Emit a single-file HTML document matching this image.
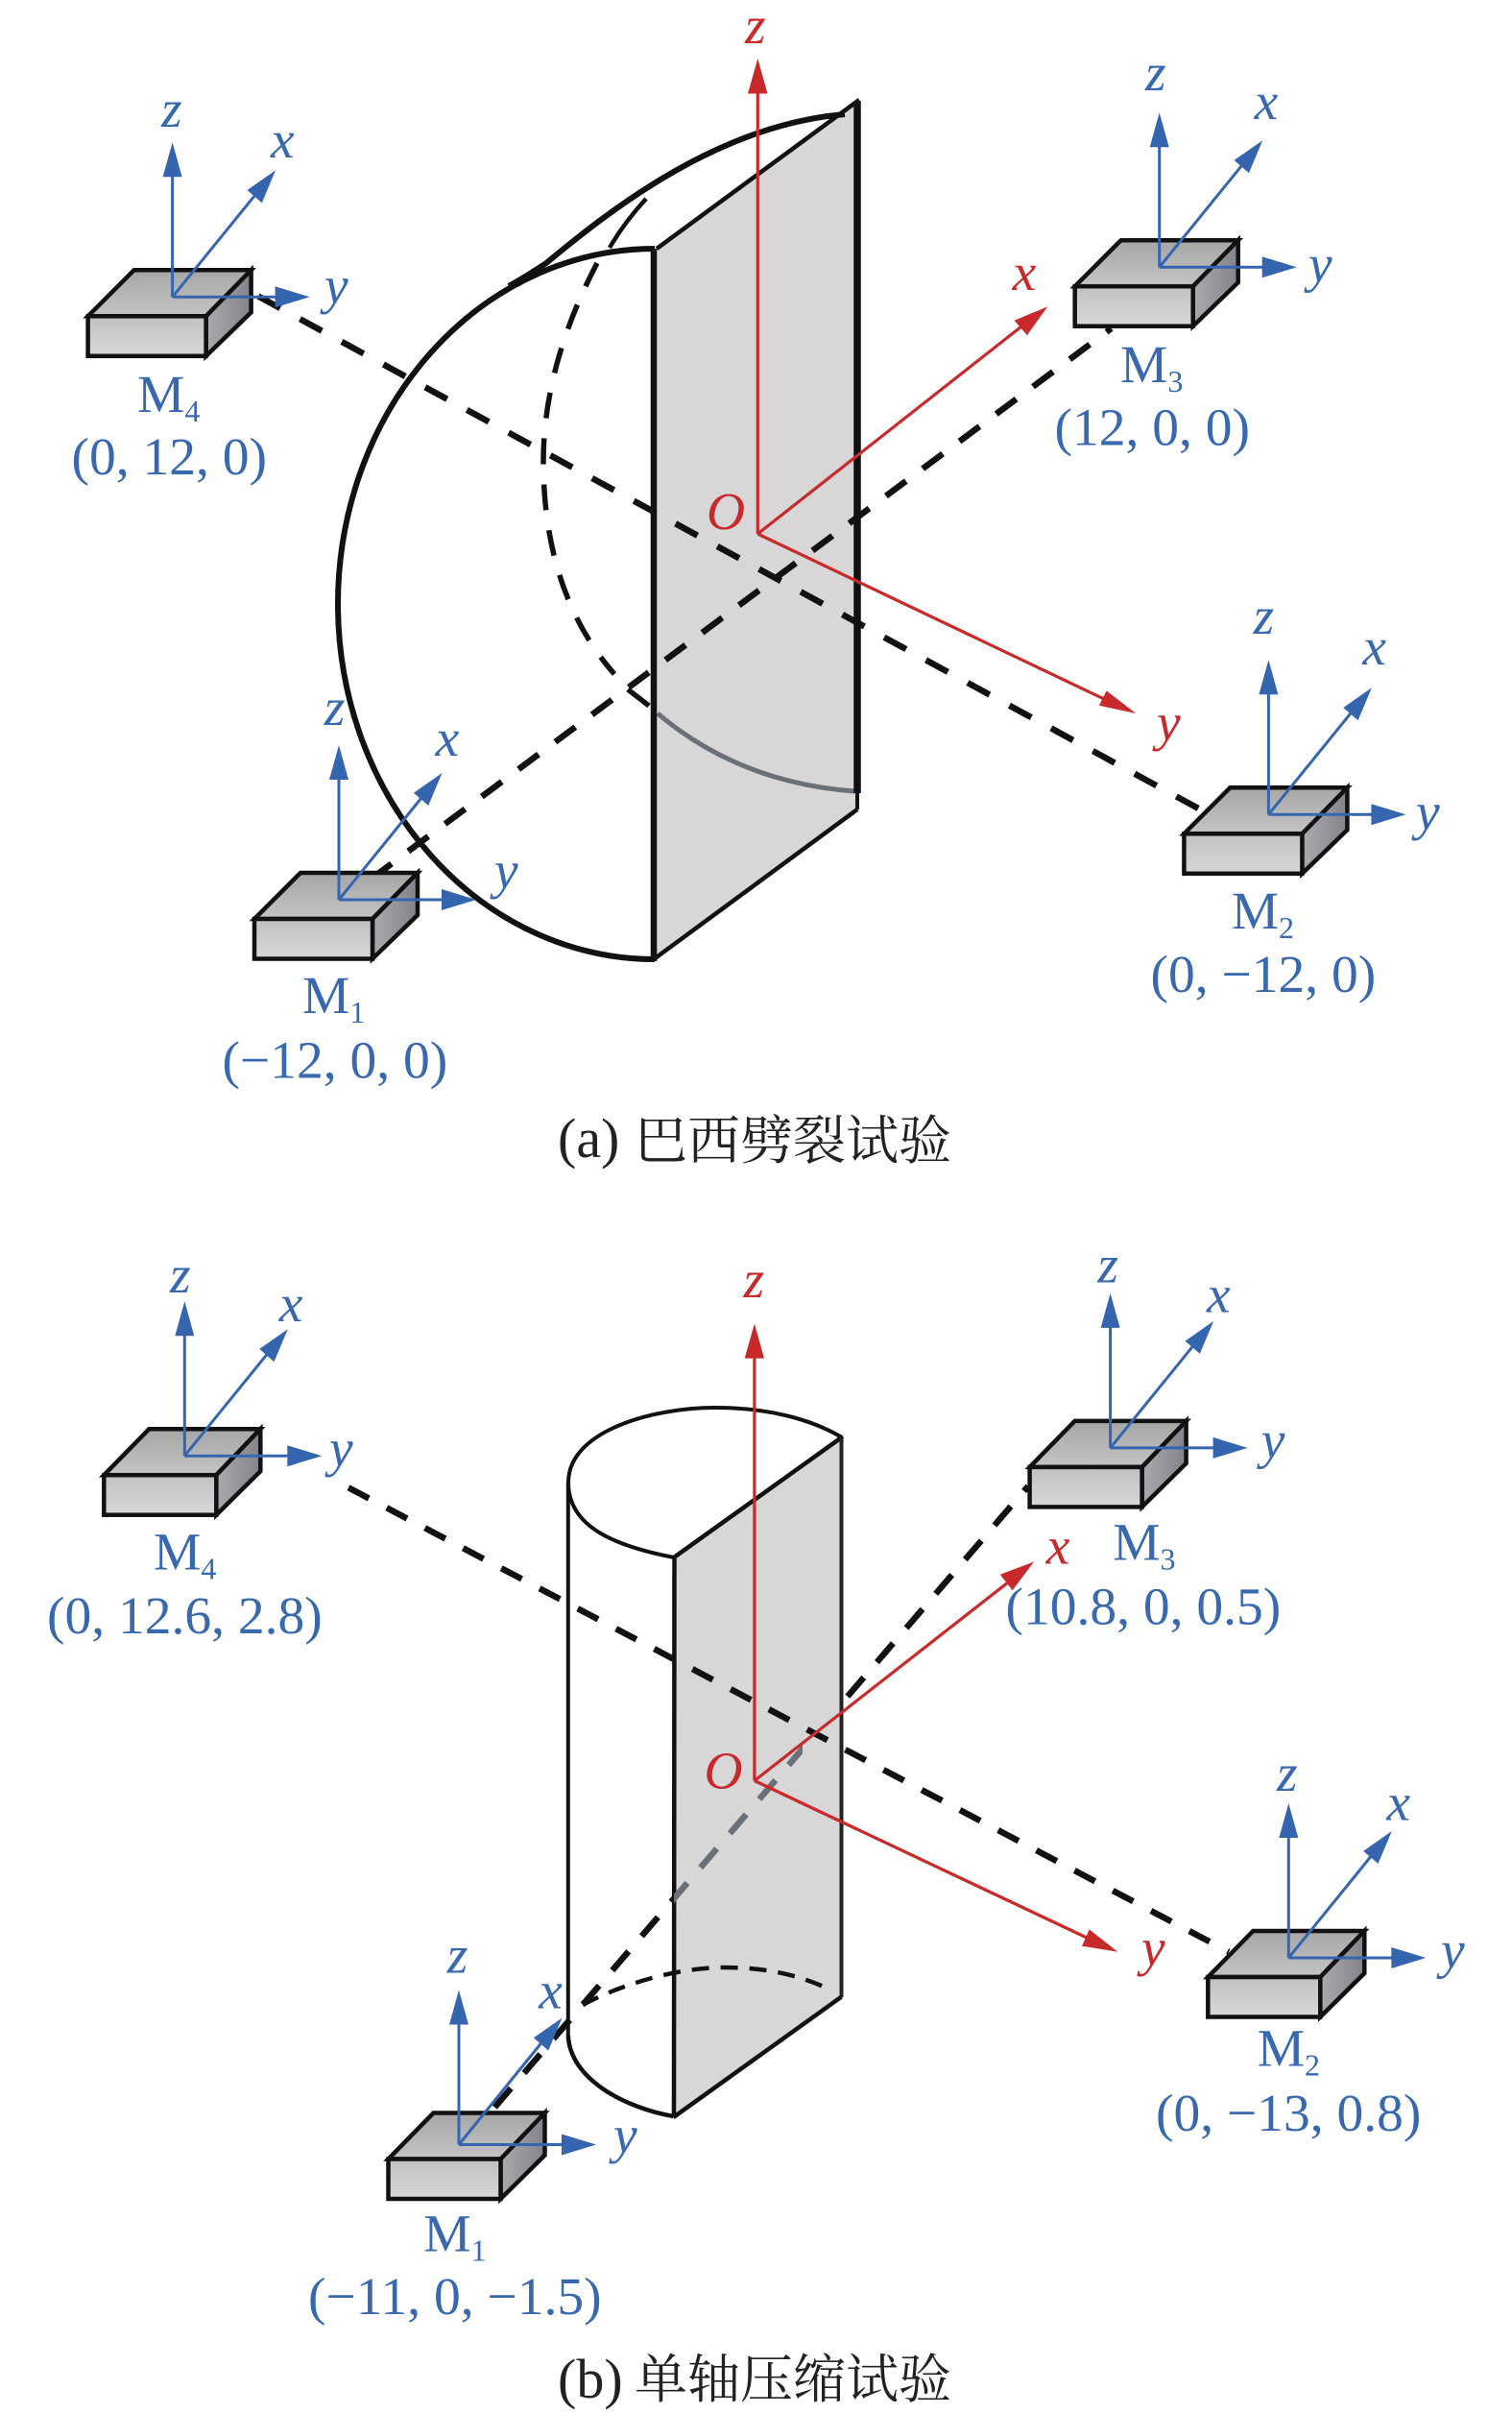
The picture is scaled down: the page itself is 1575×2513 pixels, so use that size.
<!DOCTYPE html>
<html><head><meta charset="utf-8">
<style>
html,body{margin:0;padding:0;background:#fff;width:1575px;height:2513px;overflow:hidden}
svg{display:block}
text{font-family:"Liberation Serif","Noto Serif CJK SC",serif;font-size:55.5px}
.b{fill:#3868ae}
.r{fill:#c82a2b}
.i{font-style:italic}
.k{fill:#222;font-size:58px}
.cn{font-family:"Liberation Serif","Noto Serif CJK SC",serif;fill:#222;font-size:55px}
</style></head><body>
<svg xmlns="http://www.w3.org/2000/svg" width="1575" height="2513" viewBox="0 0 1575 2513">
<defs>
<linearGradient id="gt" x1="0" y1="0" x2="0" y2="1"><stop offset="0" stop-color="#a6a6a6"/><stop offset="1" stop-color="#c4c4c4"/></linearGradient>
<linearGradient id="gf" x1="0" y1="0" x2="0" y2="1"><stop offset="0" stop-color="#bfc1c2"/><stop offset="1" stop-color="#d8d8d8"/></linearGradient>
<linearGradient id="gs" x1="0" y1="0" x2="1" y2="0"><stop offset="0" stop-color="#aaaaae"/><stop offset="1" stop-color="#82828a"/></linearGradient>
<linearGradient id="gl" gradientUnits="userSpaceOnUse" x1="515" y1="0" x2="1071" y2="0">
<stop offset="0" stop-color="#111"/><stop offset=".336" stop-color="#111"/><stop offset=".336" stop-color="#6a7078"/><stop offset=".577" stop-color="#6a7078"/><stop offset=".577" stop-color="#6a7078" stop-opacity="0"/><stop offset=".649" stop-color="#111" stop-opacity="0"/><stop offset=".649" stop-color="#111"/><stop offset="1" stop-color="#111"/>
</linearGradient>
<g id="boxA" stroke="#111" stroke-width="4.5" stroke-linejoin="miter">
<polygon points="-88,20 -40,-28 82,-28 35,20" fill="url(#gt)"/>
<polygon points="35,20 82,-28 82,16 35,61.5" fill="url(#gs)"/>
<rect x="-88" y="20" width="123" height="41.5" fill="url(#gf)"/>
</g>
<g id="boxB" stroke="#111" stroke-width="4.5" stroke-linejoin="miter">
<polygon points="-84,20 -37,-28 79,-28 33,20" fill="url(#gt)"/>
<polygon points="33,20 79,-28 79,16 33,61.5" fill="url(#gs)"/>
<rect x="-84" y="20" width="117" height="41.5" fill="url(#gf)"/>
</g>
<g id="axes">
<g stroke="#3565ae" stroke-width="3" fill="none">
<line x1="0" y1="0" x2="0" y2="-128"/>
<line x1="0" y1="0" x2="86" y2="-106"/>
<line x1="0" y1="0" x2="110" y2="0"/>
</g>
<g fill="#3565ae">
<polygon points="0,-161 10,-125 -10,-125"/>
<polygon points="107.5,-132 77.9,-111.3 93.2,-98"/>
<polygon points="143,0 107,-11 107,11"/>
</g>
</g>
</defs>
<rect width="1575" height="2513" fill="#fff"/>

<!-- FIGURE A -->
<polygon points="684,259 893,106 893,843 681,999" fill="#d8d6d7"/>
<path d="M682,259 A330,370 0 0 0 682,999" fill="none" stroke="#111" stroke-width="6"/>
<path d="M530,298 Q548,288 569,274 C640,215 750,130 880,119" fill="none" stroke="#111" stroke-width="6"/>
<path d="M635,258 Q650,232 673,207" fill="none" stroke="#111" stroke-width="4.5"/>
<line x1="684" y1="259" x2="895" y2="104" stroke="#111" stroke-width="4.5"/>
<line x1="893" y1="826" x2="893" y2="843" stroke="#111" stroke-width="4"/>
<line x1="893" y1="843" x2="681" y2="999" stroke="#111" stroke-width="4.5"/>
<path d="M685,743 Q770,815 890,824" fill="none" stroke="#6b7078" stroke-width="5"/>
<path d="M622,274 C582,350 566,420 566,480 C566,570 590,645 640,702" fill="none" stroke="#111" stroke-width="5.5" stroke-dasharray="27,21"/>
<line x1="654" y1="718" x2="676" y2="735" stroke="#111" stroke-width="5.5"/>
<line x1="681" y1="259" x2="681" y2="1001" stroke="#111" stroke-width="6.5"/>
<line x1="893" y1="105" x2="893" y2="826" stroke="#111" stroke-width="7.5"/>
<line x1="269" y1="308.5" x2="1257" y2="846.7" stroke="#111" stroke-width="6.5" stroke-dasharray="26,23.5"/>
<line x1="387" y1="915" x2="1157.6" y2="342" stroke="#111" stroke-width="6.5" stroke-dasharray="26,21.7"/>

<g stroke="#c82a2b" stroke-width="3.2" fill="none">
<line x1="789.3" y1="556" x2="789.3" y2="90"/>
<line x1="789.3" y1="556" x2="1064" y2="340"/>
<line x1="789.3" y1="556" x2="1150" y2="728"/>
</g>
<g fill="#c82a2b">
<polygon points="789.3,61 799.5,97.5 779,97.5"/>
<polygon points="1091.3,319.2 1056.6,333.8 1069.9,349.1"/>
<polygon points="1183.2,743 1144.9,734.7 1152.6,719.4"/>
</g>
<text class="r i" x="776" y="45">z</text>
<text class="r i" x="1054.6" y="302">x</text>
<text class="r i" x="1205" y="771">y</text>
<text class="r i" x="736" y="551">O</text>

<!-- sensors A -->
<use href="#boxA" x="179.6" y="309.3"/><use href="#axes" x="179.6" y="309.3"/>
<use href="#boxA" x="1207.7" y="278.2"/><use href="#axes" x="1207.7" y="278.2"/>
<use href="#boxA" x="353" y="937"/><use href="#axes" x="353" y="937"/>
<use href="#boxA" x="1321.4" y="848.3"/><use href="#axes" x="1321.4" y="848.3"/>

<text class="b i" x="168" y="132">z</text><text class="b i" x="282" y="164">x</text><text class="b i" x="338" y="316">y</text>
<text class="b" x="143" y="429">M<tspan font-size="32" dy="10">4</tspan></text>
<text class="b" x="74.5" y="494">(0, 12, 0)</text>

<text class="b i" x="1193" y="94">z</text><text class="b i" x="1306.6" y="124">x</text><text class="b i" x="1363" y="293.5">y</text>
<text class="b" x="1167" y="398">M<tspan font-size="32" dy="10">3</tspan></text>
<text class="b" x="1098.5" y="463.5">(12, 0, 0)</text>

<text class="b i" x="337.8" y="755">z</text><text class="b i" x="453.6" y="787">x</text><text class="b i" x="515" y="925">y</text>
<text class="b" x="315" y="1054.8">M<tspan font-size="32" dy="10">1</tspan></text>
<text class="b" x="231.5" y="1122.4">(−12, 0, 0)</text>

<text class="b i" x="1305.6" y="660">z</text><text class="b i" x="1419.4" y="692">x</text><text class="b i" x="1475" y="864">y</text>
<text class="b" x="1282.7" y="967">M<tspan font-size="32" dy="10">2</tspan></text>
<text class="b" x="1198.5" y="1033">(0, −12, 0)</text>

<text class="k" x="581" y="1205">(a)</text>
<text class="cn" x="661" y="1207">巴西劈裂试验</text>

<!-- FIGURE B -->
<polygon points="702,1622 877,1497 877,2079.6 701.5,2205" fill="#d8d6d7"/>
<path d="M702,1622 C640,1610 592,1590 592,1544 C592,1490 680,1466 745,1466 C800,1466 845,1478 877,1497" fill="none" stroke="#111" stroke-width="4"/>
<line x1="702" y1="1622" x2="878" y2="1496" stroke="#111" stroke-width="4.5"/>
<line x1="591.8" y1="1544" x2="591.8" y2="2120" stroke="#111" stroke-width="4"/>
<line x1="702.5" y1="1622" x2="702" y2="2205" stroke="#111" stroke-width="4.5"/>
<line x1="876.5" y1="1497" x2="876.5" y2="2080" stroke="#222" stroke-width="4"/>
<line x1="876.5" y1="2079.6" x2="701.5" y2="2205" stroke="#111" stroke-width="4.5"/>
<path d="M591.8,2120 C594,2165 650,2195 701.5,2204" fill="none" stroke="#111" stroke-width="4.5"/>
<path d="M607,2088 C640,2070 700,2049 755,2049 C795,2049 830,2056 860,2070" fill="none" stroke="#111" stroke-width="4.5" stroke-dasharray="18,12"/>
<line x1="363" y1="1549.3" x2="1280" y2="2032.7" stroke="#111" stroke-width="6.5" stroke-dasharray="24,21"/>
<line x1="515.3" y1="2194.6" x2="1071" y2="1547.7" stroke="url(#gl)" stroke-width="6.5" stroke-dasharray="26,21"/>

<g stroke="#c82a2b" stroke-width="3.2" fill="none">
<line x1="785.9" y1="1854.5" x2="785.9" y2="1400"/>
<line x1="785.9" y1="1854.5" x2="1050" y2="1648"/>
<line x1="785.9" y1="1854.5" x2="1132" y2="2018"/>
</g>
<g fill="#c82a2b">
<polygon points="785.9,1378.5 796,1414.6 775.7,1414.6"/>
<polygon points="1077,1626.5 1041.8,1639.7 1054.6,1656.3"/>
<polygon points="1164.3,2032.7 1127,2026.7 1134.7,2009.4"/>
</g>
<text class="r i" x="774.5" y="1351">z</text>
<text class="r i" x="1089.8" y="1628.5">x</text>
<text class="r i" x="1189" y="2047">y</text>
<text class="r i" x="733.5" y="1862.4">O</text>

<!-- sensors B -->
<use href="#boxB" x="192.3" y="1516.2"/><use href="#axes" x="192.3" y="1516.2"/>
<use href="#boxB" x="1156.6" y="1507.9"/><use href="#axes" x="1156.6" y="1507.9"/>
<use href="#boxB" x="1342.3" y="2039"/><use href="#axes" x="1342.3" y="2039"/>
<use href="#boxB" x="488.5" y="2228.5"/><use href="#axes" x="478" y="2233.5"/>

<text class="b i" x="177" y="1346">z</text><text class="b i" x="290.8" y="1376">x</text><text class="b i" x="343" y="1527">y</text>
<text class="b" x="160" y="1634.7">M<tspan font-size="32" dy="10">4</tspan></text>
<text class="b" x="49" y="1701">(0, 12.6, 2.8)</text>

<text class="b i" x="1143.4" y="1335.5">z</text><text class="b i" x="1257" y="1366.5">x</text><text class="b i" x="1313.7" y="1518.6">y</text>
<text class="b" x="1159.2" y="1624.4">M<tspan font-size="32" dy="10">3</tspan></text>
<text class="b" x="1047.5" y="1691.5">(10.8, 0, 0.5)</text>

<text class="b i" x="1330" y="1865">z</text><text class="b i" x="1444.4" y="1895.5">x</text><text class="b i" x="1501" y="2049.5">y</text>
<text class="b" x="1309.7" y="2151.5">M<tspan font-size="32" dy="10">2</tspan></text>
<text class="b" x="1204" y="2219">(0, −13, 0.8)</text>

<text class="b i" x="465.8" y="2054.5">z</text><text class="b i" x="561.2" y="2091.5">x</text><text class="b i" x="639" y="2242">y</text>
<text class="b" x="441.3" y="2344.7">M<tspan font-size="32" dy="10">1</tspan></text>
<text class="b" x="321" y="2410">(−11, 0, −1.5)</text>

<text class="k" x="581" y="2497">(b)</text>
<text class="cn" x="661" y="2497">单轴压缩试验</text>
</svg>
</body></html>
